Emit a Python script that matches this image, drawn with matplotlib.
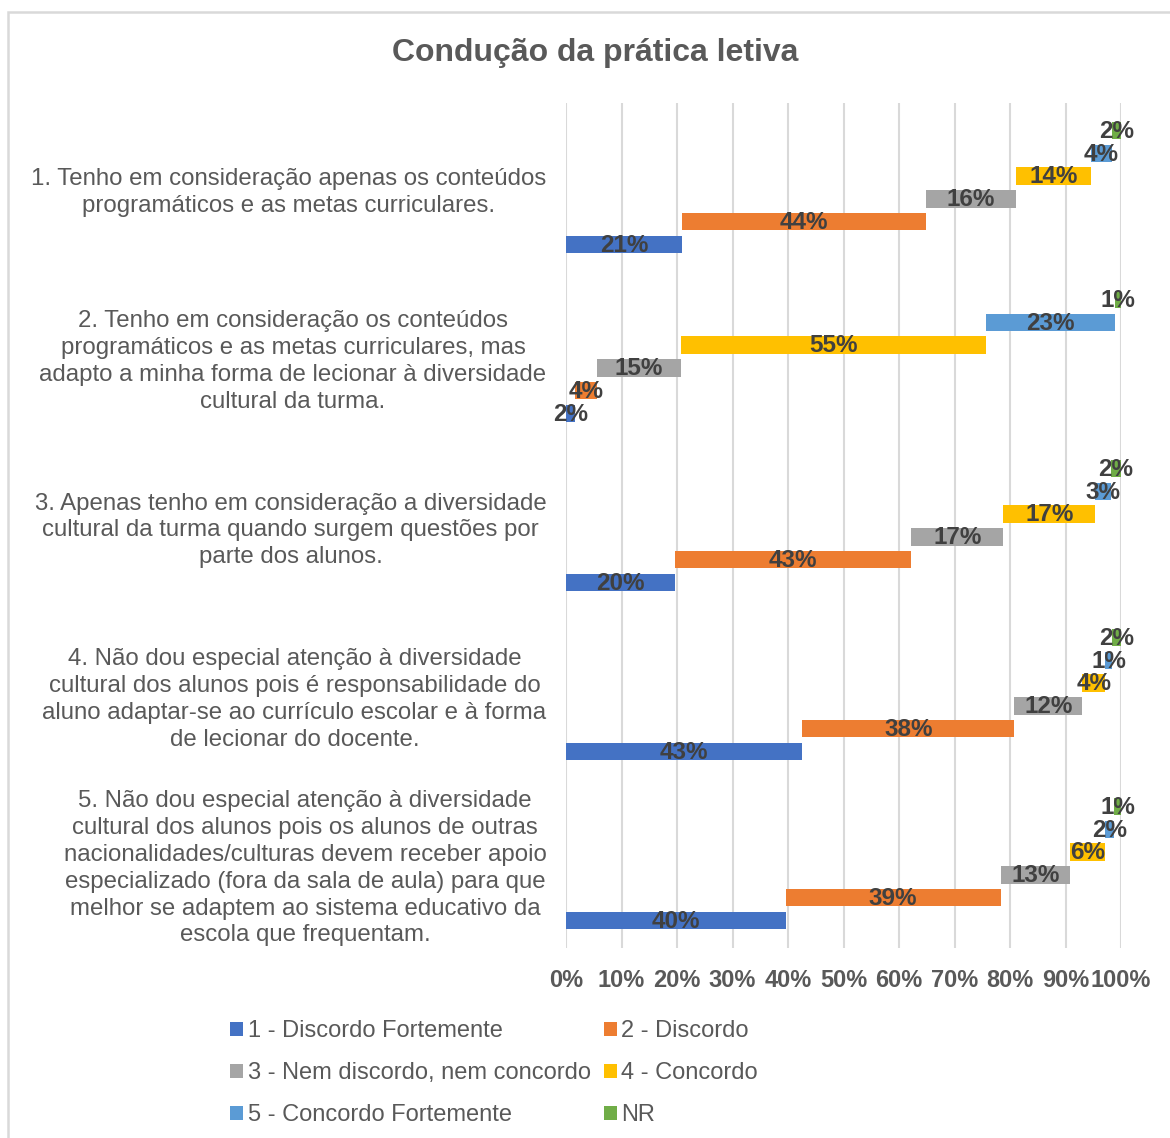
import matplotlib.pyplot as plt
from matplotlib.patches import Patch, Rectangle

plt.rcParams["font.family"] = ["Liberation Sans", "DejaVu Sans"]

title = "Condução da prática letiva"

questions = [
    "1. Tenho em consideração apenas os conteúdos\nprogramáticos e as metas curriculares.",
    "2. Tenho em consideração os conteúdos\nprogramáticos e as metas curriculares, mas\n"
    "adapto a minha forma de lecionar à diversidade\ncultural da turma.",
    "3. Apenas tenho em consideração a diversidade\ncultural da turma quando surgem questões por\n"
    "parte dos alunos.",
    "4. Não dou especial atenção à diversidade\ncultural dos alunos pois é responsabilidade do\n"
    "aluno adaptar-se ao currículo escolar e à forma\nde lecionar do docente.",
    "5. Não dou especial atenção à diversidade\ncultural dos alunos pois os alunos de outras\n"
    "nacionalidades/culturas devem receber apoio\nespecializado (fora da sala de aula) para que\n"
    "melhor se adaptem ao sistema educativo da\nescola que frequentam.",
]

series_names = [
    "1 - Discordo Fortemente",
    "2 - Discordo",
    "3 - Nem discordo, nem concordo",
    "4 - Concordo",
    "5 - Concordo Fortemente",
    "NR",
]

# percentages per question (Q1..Q5)
discordo_fortemente = [20.9, 1.6, 19.6, 42.6, 39.6]
discordo = [43.9, 3.9, 42.6, 38.2, 38.7]
nem_nem = [16.2, 15.2, 16.6, 12.2, 12.6]
concordo = [13.6, 55.0, 16.6, 4.2, 6.3]
concordo_fortemente = [3.8, 23.3, 2.8, 1.2, 1.6]
nr = [1.6, 1.0, 1.8, 1.6, 1.2]

series = [discordo_fortemente, discordo, nem_nem, concordo, concordo_fortemente, nr]
colors = ["#4472C4", "#ED7D31", "#A5A5A5", "#FFC000", "#5B9BD5", "#70AD47"]

ticks = list(range(0, 101, 10))

fig = plt.figure(figsize=(11.7, 11.38), dpi=100)
ax = fig.add_axes([566 / 1170, 1 - 948 / 1138, 555 / 1170, 845 / 1138])

step = 0.1343
height = 0.1024
lefts = [0.0] * len(questions)
for j, (vals, color) in enumerate(zip(series, colors)):
    ys = [i + (2.5 - j) * step for i in range(len(questions))]
    ax.barh(ys, vals, left=lefts, height=height, color=color, zorder=2)
    for y, l, v in zip(ys, lefts, vals):
        ax.text(l + v / 2, y + 0.005, f"{v:.0f}%", ha="center", va="center",
                fontsize=17.5, fontweight="bold", color="#404040", zorder=3)
    lefts = [l + v for l, v in zip(lefts, vals)]

ax.set_xlim(0, 100)
ax.set_ylim(4.5, -0.5)
ax.set_xticks(ticks)
ax.set_xticklabels([f"{t}%" for t in ticks], fontsize=17, fontweight="bold", color="#595959")
ax.set_yticks(range(len(questions)))
ax.set_yticklabels(questions, fontsize=17.3, color="#595959", linespacing=1.28)
for lbl in ax.get_yticklabels():
    lbl.set_multialignment("center")
ax.tick_params(axis="both", length=0)
ax.tick_params(axis="y", pad=14)
ax.tick_params(axis="x", pad=15)
ax.grid(axis="x", color="#D9D9D9", linewidth=1.5, zorder=0)
for s in ax.spines.values():
    s.set_visible(False)

fig.text(595 / 1170, 1 - 53 / 1138, title, ha="center", va="center",
         fontsize=23, fontweight="bold", color="#595959")

handles = [Patch(facecolor=c, edgecolor="none") for c in colors]
order = [0, 2, 4, 1, 3, 5]
fig.legend([handles[k] for k in order], [series_names[k] for k in order],
           ncol=2, loc="upper left", bbox_to_anchor=(230 / 1170, 1 - 1020 / 1138),
           frameon=False, fontsize=17, labelcolor="#595959",
           handlelength=0.55, handleheight=0.55, handletextpad=0.2,
           columnspacing=0.55, labelspacing=0.85, borderpad=0, borderaxespad=0)

fig.patches.append(Rectangle((8 / 1170, -0.01), 1.02, 1 - 12 / 1138 + 0.01,
                             transform=fig.transFigure, fill=False,
                             edgecolor="#D9D9D9", linewidth=1.8))

fig.savefig("out.png", dpi=100)
